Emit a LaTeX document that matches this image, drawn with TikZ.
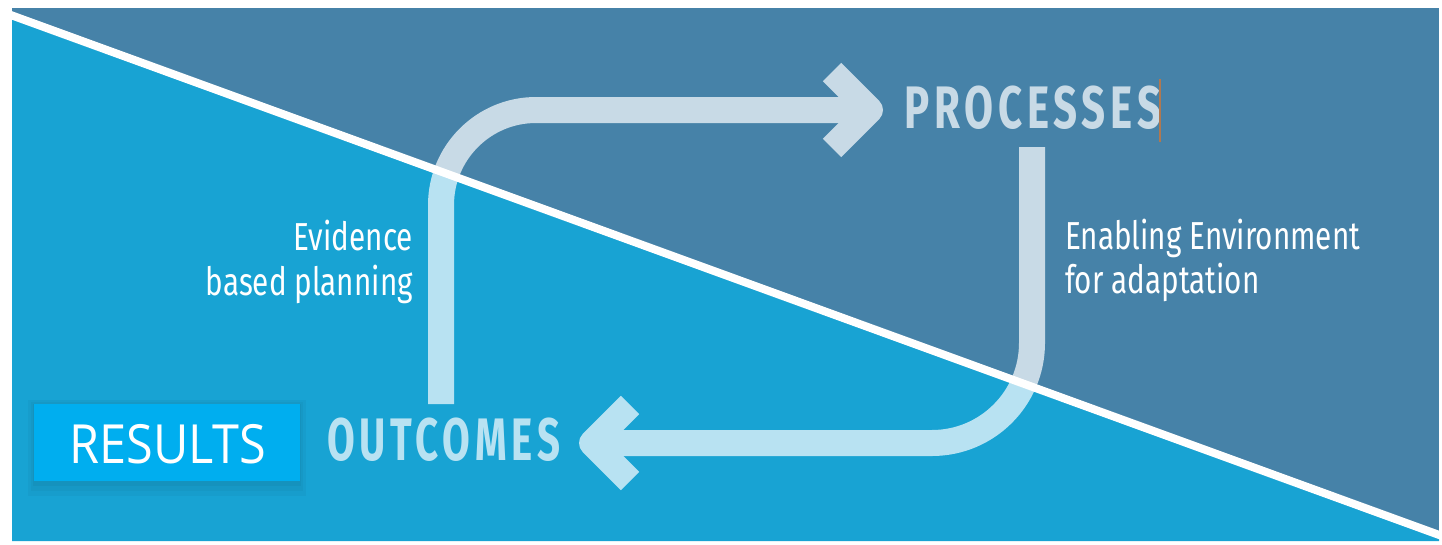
\documentclass[tikz,border=0pt]{standalone}
\usepackage{fontspec}
\setmainfont{Fira Sans}
\newfontfamily\condfont[FakeStretch=0.76]{Fira Sans}
\newfontfamily\capfont[FakeStretch=0.7,LetterSpace=8]{Fira Sans}
\newfontfamily\capfontb[FakeStretch=0.67,LetterSpace=8]{Fira Sans}
\newfontfamily\resfont[FakeStretch=0.9]{Open Sans}
\definecolor{darkbg}{RGB}{70,130,168}
\definecolor{lightbg}{RGB}{24,163,211}
\definecolor{banddark}{RGB}{200,218,230}
\definecolor{bandlight}{RGB}{184,226,242}
\definecolor{resbox}{RGB}{0,174,239}
\definecolor{cursor}{RGB}{176,120,80}
\begin{document}
\begin{tikzpicture}[x=1pt,y=-1pt,
  band/.style={line width=26pt,line cap=butt},
  chev/.style={line width=26pt,line cap=butt,line join=round},
  lbl/.style={inner sep=0pt,text=white,font=\condfont\fontsize{39}{45}\selectfont},
  biglbl/.style={inner sep=0pt,font=\capfont\bfseries\fontsize{60}{64}\selectfont}]
\useasboundingbox (0,0) rectangle (1442,544);
% background
\fill[white] (0,0) rectangle (1442,544);
\fill[darkbg] (12,8) rectangle (1439,541);
\fill[lightbg] (12,16) -- (1439,535) -- (1439,541) -- (12,541) -- cycle;
% coordinates of the loop
\coordinate (lb) at (441,404);
\coordinate (lc) at (441,110);
\coordinate (le) at (862,110);
\coordinate (rt) at (1032,147);
\coordinate (rc) at (1032,443);
\coordinate (re) at (600,443);
% band drawn in two tints
\foreach \reg/\col in {{(12,8) -- (1439,8) -- (1439,535) -- (12,16) -- cycle}/banddark,
                       {(12,16) -- (1439,535) -- (1439,541) -- (12,541) -- cycle}/bandlight}{
  \begin{scope}
    \clip \reg;
    \draw[band,\col,rounded corners=95pt] (lb) -- (lc) -- (le);
    \draw[chev,\col] (832,72) -- (870,110) -- (832,148);
    \draw[band,\col,rounded corners=100pt] (rt) -- (rc) -- (re);
    \draw[chev,\col] (630,405) -- (592,443) -- (630,481);
  \end{scope}
}
% diagonal white line
\coordinate (d1) at (8,14);
\coordinate (d2) at (1442,536);
\draw[white,line width=8pt] (d1) -- (d2);
% labels
\node[biglbl,text=banddark,anchor=base west] (proc) at (904,128) {PROCESSES};
\draw[cursor,line width=1.5pt] (1160,79) -- (1160,142);
\node[biglbl,text=bandlight,anchor=base west,font=\capfontb\bfseries\fontsize{60}{64}\selectfont] (outc) at (327,460) {OUTCOMES};
\node[lbl,anchor=base east] (ev1) at (413,250) {Evidence};
\node[lbl,anchor=base east] (ev2) at (413,295) {based planning};
\node[lbl,anchor=base west] (en1) at (1065,249) {Enabling Environment};
\node[lbl,anchor=base west] (en2) at (1065,293) {for adaptation};
% RESULTS box with soft shadow
\fill[black,opacity=0.03] (28,400) rectangle (306,496);
\fill[black,opacity=0.03] (31,402) rectangle (303,491);
\fill[black,opacity=0.04] (33,404) rectangle (301,486);
\node[fill=resbox,minimum width=266pt,minimum height=77pt,inner sep=0pt,anchor=north west] (res) at (34,404) {};
\node[inner sep=0pt,text=white,anchor=base,font=\resfont\fontsize{54}{60}\selectfont] (restxt) at (168,463) {RESULTS};
\end{tikzpicture}
\end{document}
